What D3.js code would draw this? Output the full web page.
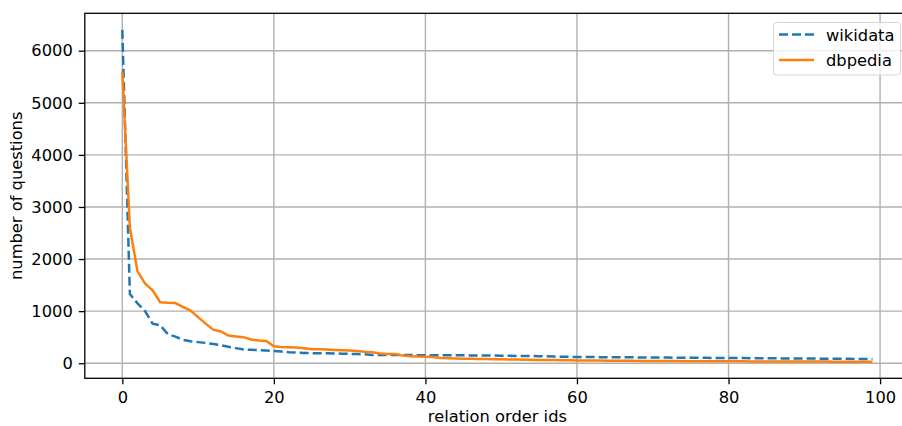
<!DOCTYPE html>
<html>
<head>
<meta charset="utf-8">
<script src="https://cdn.jsdelivr.net/npm/d3@7"></script>
<style>
body{margin:0;background:#fff;}
svg{display:block;font-family:"DejaVu Sans",sans-serif;}
</style>
</head>
<body>
<script>
// values, index 0..99
var wikidata = [6400,1330,1150,1000,760,730,560,510,450,420,
	405,390,370,345,315,290,262,258,250,245,
	235,225,210,203,197,194,192,190,186,184,
	180,177,170,160,158,158,157,156,156,155,
	155,154,153,152,152,151,150,148,147,146,
	145,143,141,140,138,135,132,128,125,122,
	120,119,118,117,116,115,114,113,112,111,
	110,109,108,107,106,105,104,103,102,101,
	100,99,98,97,96,95,94,93,92,91,
	90,89,88,87,86,85,84,83,82,81];
var dbpedia = [5600,2600,1770,1530,1400,1170,1160,1155,1080,1010,
	885,760,645,610,530,515,500,455,435,425,
	325,312,306,300,288,270,267,262,255,249,
	243,236,218,210,185,178,176,146,133,127,
	125,120,101,95,92,88,85,82,79,76,
	74,72,70,69,67,64,62,60,58,56,
	54,52,51,50,49,48,47,46,45,44,
	43,42,41,41,40,40,39,38,38,37,
	37,36,36,35,35,34,34,33,33,32,
	32,31,31,31,30,30,30,29,29,29];
var seriesNames = ["wikidata","dbpedia"];
var xTicks = [0,20,40,60,80,100];
var yTicks = [0,1000,2000,3000,4000,5000,6000];

main = function(){
	var W = 902, H = 426;
	var left = 84.8, right = 910, top = 13.3, bottom = 378.3;
	var fs = "16.3px";

	var svg = d3.select("body").append("svg")
			.attr("width",W)
			.attr("height",H);

	var n = wikidata.length;
	var x = d3.scaleLinear()
			.domain([-0.05*(n-1), (n-1)*1.05])
			.range([left,right]);

	// matplotlib style 5% margins
	var all = wikidata.concat(dbpedia);
	var lo = d3.min(all), hi = d3.max(all), r = hi - lo;
	var y = d3.scaleLinear()
			.domain([lo - 0.05*r, hi + 0.05*r])
			.range([bottom,top]);

	//grid
	var grid = svg.append("g").attr("class","grid");
	grid.selectAll("line.gx").data(xTicks).enter().append("line")
			.attr("x1",function(d){return x(d);})
			.attr("x2",function(d){return x(d);})
			.attr("y1",top).attr("y2",bottom)
			.attr("stroke","#b0b0b0").attr("stroke-width",1.4);
	grid.selectAll("line.gy").data(yTicks).enter().append("line")
			.attr("y1",function(d){return y(d);})
			.attr("y2",function(d){return y(d);})
			.attr("x1",left).attr("x2",right)
			.attr("stroke","#b0b0b0").attr("stroke-width",1.4);

	//lines
	var line = function(arr){
		return d3.line()
				.x(function(d,i){return x(i);})
				.y(function(d){return y(d);})(arr);
	};
	svg.append("path")
			.attr("d",line(wikidata))
			.attr("fill","none")
			.attr("stroke","#1f77b4")
			.attr("stroke-width",2.5)
			.attr("stroke-dasharray","9,4");
	svg.append("path")
			.attr("d",line(dbpedia))
			.attr("fill","none")
			.attr("stroke","#ff7f0e")
			.attr("stroke-width",2.5);

	//frame
	svg.append("rect")
			.attr("x",left).attr("y",top)
			.attr("width",right-left).attr("height",bottom-top)
			.attr("fill","none").attr("stroke","#000").attr("stroke-width",1.3);

	//axes
	var xa = svg.append("g")
			.attr("transform","translate(0,"+bottom+")")
			.call(d3.axisBottom(x).tickValues(xTicks).tickSize(6).tickSizeOuter(0).tickPadding(7));
	var ya = svg.append("g")
			.attr("transform","translate("+left+",0)")
			.call(d3.axisLeft(y).tickValues(yTicks).tickSize(6).tickSizeOuter(0).tickPadding(6).tickFormat(d3.format("d")));
	[xa,ya].forEach(function(a){
		a.select(".domain").remove();
		a.selectAll("line").attr("stroke","#000").attr("stroke-width",1.3);
		a.selectAll("text").attr("fill","#000").style("font-size",fs).style("font-family","DejaVu Sans");
	});

	svg.append("text")
			.attr("x",(left+right)/2).attr("y",422)
			.attr("text-anchor","middle")
			.style("font-size",fs)
			.text("relation order ids");
	svg.append("text")
			.attr("transform","translate(22,"+((top+bottom)/2)+") rotate(-90)")
			.attr("text-anchor","middle")
			.style("font-size",fs)
			.text("number of questions");

	//legend
	var lg = svg.append("g");
	lg.append("rect")
			.attr("x",773.5).attr("y",22.5)
			.attr("width",127).attr("height",52.5)
			.attr("rx",3)
			.attr("fill","#fff").attr("fill-opacity",0.8)
			.attr("stroke","#d5d5d5").attr("stroke-width",1);
	var items = lg.selectAll("g.item").data(seriesNames).enter().append("g")
			.attr("transform",function(d,i){return "translate(0,"+(34.5+i*25.5)+")";});
	items.append("line")
			.attr("x1",779).attr("x2",814)
			.attr("stroke",function(d,i){return i==0 ? "#1f77b4" : "#ff7f0e";})
			.attr("stroke-width",2.5)
			.attr("stroke-dasharray",function(d,i){return i==0 ? "9,4" : null;});
	items.append("text")
			.attr("x",826).attr("y",6)
			.style("font-size",fs)
			.text(function(d){return d;});
};

main();
</script>
</body>
</html>
